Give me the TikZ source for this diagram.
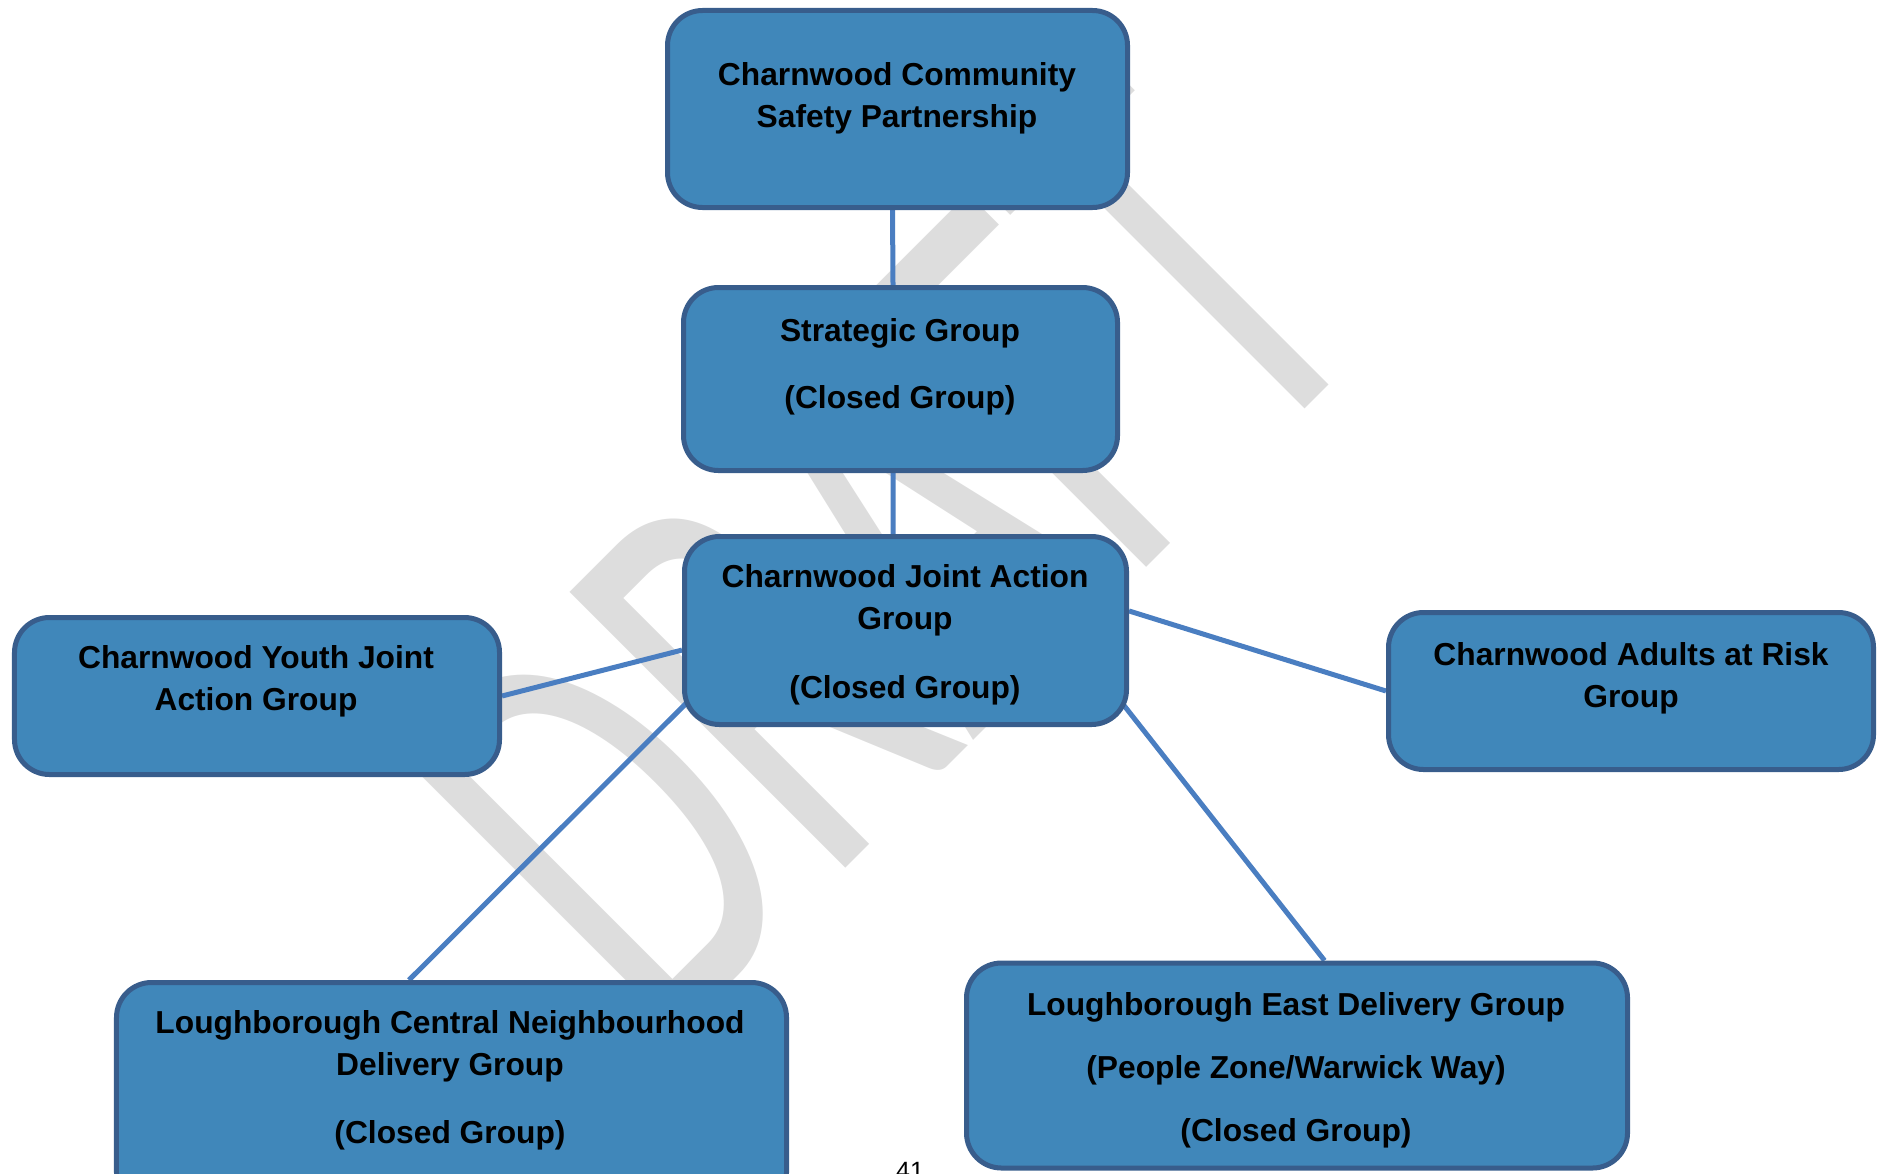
\documentclass[tikz,border=0pt]{standalone}
\usepackage{fontspec}
\setmainfont{Liberation Sans}
\newfontfamily\wmfont{Carlito}
\usepackage{xcolor}
\usepackage{tikz}
\usetikzlibrary{positioning}

\definecolor{grpfill}{RGB}{64,135,186}
\definecolor{grpline}{RGB}{56,93,140}
\definecolor{linkblue}{RGB}{74,126,193}
\definecolor{wmgray}{RGB}{221,221,221}

\pgfdeclarelayer{back}
\pgfsetlayers{back,main}

\begin{document}
\begin{tikzpicture}[x=0.4pt, y=-0.4pt,
  grp/.style={draw=grpline, fill=grpfill, line width=2pt, rounded corners=14pt, inner sep=0pt},
  grptext/.style={align=center, inner sep=0pt, font=\fontsize{12.7}{16.8}\selectfont\bfseries},
  link/.style={draw=linkblue, line width=2pt}]

  \useasboundingbox (0,0) rectangle (1883,1173);

  % group boxes
  \foreach \n/\x/\y/\w/\h in {csp/897.5/109/184pt/78.8pt, strat/900.5/379/173.6pt/73.2pt,
      jag/905.5/630.5/176.8pt/75.2pt, youth/257/696/194pt/62.8pt, adults/1631/691/194pt/62.8pt,
      lcn/451.5/1095/268pt/90pt, lce/1297/1065.5/264.4pt/82pt}
    \node[grp, minimum width=\w, minimum height=\h] (\n) at (\x,\y) {};

  \node[grptext] (csp-t) at (897,98) {Charnwood Community\\Safety Partnership};
  \node[grptext] (strat-t) at (900,367) {Strategic Group\\[10pt](Closed Group)};
  \node[grptext] (jag-t) at (905,635) {Charnwood Joint Action\\Group\\[10.8pt](Closed Group)};
  \node[grptext] (youth-t) at (256,681) {Charnwood Youth Joint\\Action Group};
  \node[grptext] (adults-t) at (1631,678) {Charnwood Adults at Risk\\Group};
  \node[grptext] (lcn-t) at (450,1080) {Loughborough Central Neighbourhood\\Delivery Group\\[10.4pt](Closed Group)};
  \node[grptext] (lce-t) at (1296,1070) {Loughborough East Delivery Group\\[8.4pt](People Zone/Warwick Way)\\[8.4pt](Closed Group)};

  \node[anchor=north, inner sep=0pt, font=\fontsize{10}{12}\selectfont] (pagenum) at (910,1162) {41};

  \begin{pgfonlayer}{back}
    % watermark
    \node[rotate=45, anchor=base, inner sep=0pt, text=wmgray, font=\wmfont\fontsize{152}{152}\selectfont] (draft) at (1022,692) {\scalebox{1}[1.6]{DRAFT}};

    \draw[link] ([xshift=-2pt]csp.south) -- ([xshift=-3pt]strat.north);
    \draw[link] ([xshift=-3pt]strat.south) -- ([xshift=-5pt]jag.north);
    \draw[link] (youth.east) -- (jag.185);
    \draw[link] (jag.5.5) -- (adults.west);
    \draw[link, shorten >=-6pt] ([xshift=-17pt]lcn.north) -- (jag.199);
    \draw[link, shorten >=-6pt] ([xshift=11pt]lce.north) -- (jag.-20.5);
  \end{pgfonlayer}

\end{tikzpicture}
\end{document}
